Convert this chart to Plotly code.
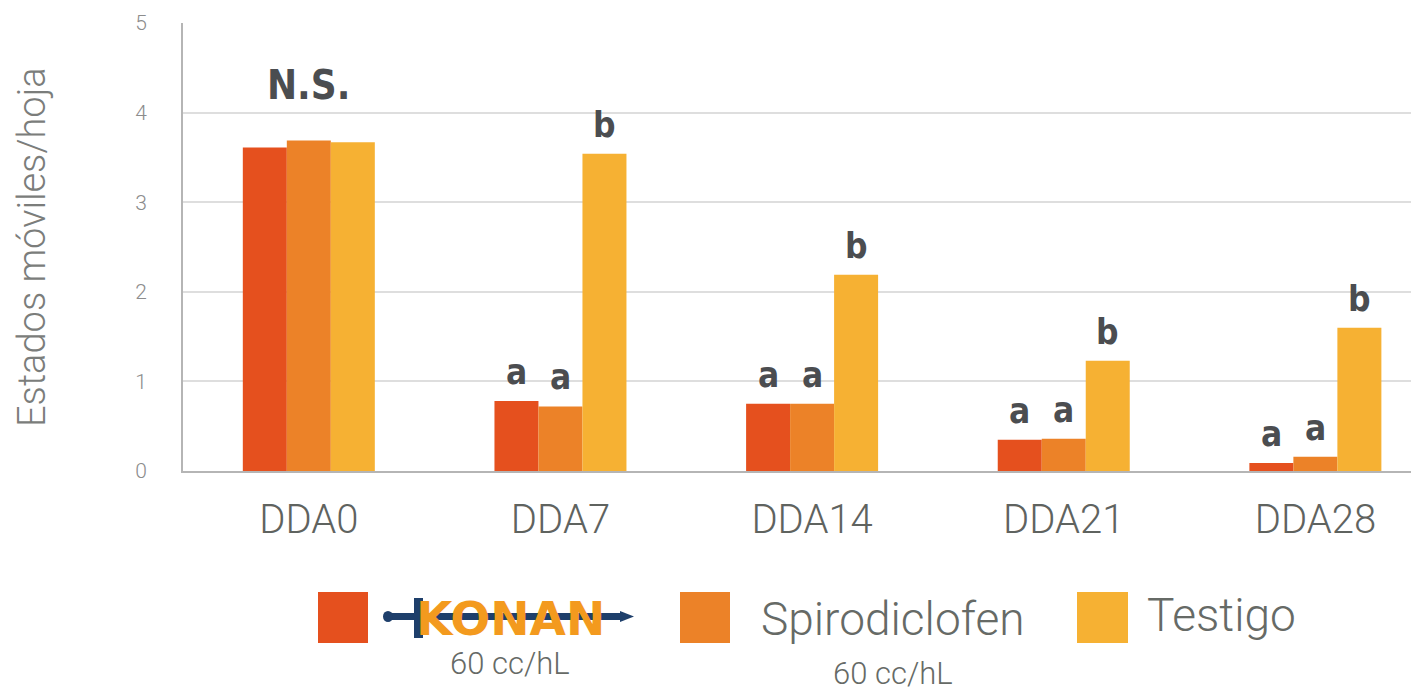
import plotly.graph_objects as go

categories = ["DDA0", "DDA7", "DDA14", "DDA21", "DDA28"]
series_names = ["Konan 60 cc/hL", "Spirodiclofen 60 cc/hL", "Testigo"]
konan = [3.61, 0.78, 0.75, 0.35, 0.09]
spirodiclofen = [3.69, 0.72, 0.75, 0.36, 0.16]
testigo = [3.67, 3.54, 2.19, 1.23, 1.60]
letters_konan = ["", "a", "a", "a", "a"]
letters_spiro = ["", "a", "a", "a", "a"]
letters_testigo = ["", "b", "b", "b", "b"]
group_label = ["N.S.", "", "", "", ""]
y_ticks = [0, 1, 2, 3, 4, 5]

colors = ["#E5501E", "#EC8228", "#F6B133"]
series = [konan, spirodiclofen, testigo]
letters = [letters_konan, letters_spiro, letters_testigo]

W, H = 1411, 691
L, R, T, B = 183, 0, 23, 220
PW, PH = W - L - R, H - T - B
x_range = [-0.5, 4.38]
unit = PW / (x_range[1] - x_range[0])
bar_w_px = 44
bw = bar_w_px / unit
bargap = 1 - 3 * bw


def px(x):
    return (x - L) / PW


def py(y):
    return (H - B - y) / PH


fig = go.Figure()
xs = list(range(len(categories)))
for name, vals, col in zip(series_names, series, colors):
    fig.add_trace(go.Bar(x=xs, y=vals, name=name, marker=dict(color=col, line=dict(width=0)),
                         showlegend=False, hoverinfo="skip"))

annotations = []
letter_font = dict(family="DejaVu Sans Condensed, Roboto, sans-serif", size=35, color="#4b4d50", weight="bold")
for s, (vals, labs) in enumerate(zip(series, letters)):
    for i, (v, t) in enumerate(zip(vals, labs)):
        if t:
            annotations.append(dict(x=i + (s - 1) * bw, y=v, xref="x", yref="y", text=t,
                                    showarrow=False, yanchor="bottom", yshift=7, font=letter_font))
for i, t in enumerate(group_label):
    if t:
        top = max(s_[i] for s_ in series)
        annotations.append(dict(x=i, y=top, xref="x", yref="y", text=t, showarrow=False,
                                yanchor="bottom", yshift=30, font=dict(letter_font, size=40)))

# Y axis title
annotations.append(dict(x=px(32), y=py(247), xref="paper", yref="paper", text="Estados móviles/hoja",
                        textangle=-90, showarrow=False, xanchor="center", yanchor="middle",
                        font=dict(family="Roboto, sans-serif", size=38, color="#7b7d7b", weight=300)))

# Custom legend
shapes = []
sq = [(318, 368), (680, 730), (1077, 1128)]
for (x0, x1), col in zip(sq, colors):
    shapes.append(dict(type="rect", xref="paper", yref="paper", x0=px(x0), x1=px(x1),
                       y0=py(643), y1=py(592), fillcolor=col, line=dict(width=0), layer="above"))

navy = "#1E3F6B"
# Konan logo (sword + word)
shapes.append(dict(type="rect", xref="paper", yref="paper", x0=px(388), x1=px(622), y0=py(620), y1=py(613),
                   fillcolor=navy, line=dict(width=0), layer="above"))
shapes.append(dict(type="circle", xref="paper", yref="paper", x0=px(383), x1=px(393), y0=py(622), y1=py(611),
                   fillcolor=navy, line=dict(width=0), layer="above"))
shapes.append(dict(type="rect", xref="paper", yref="paper", x0=px(414), x1=px(423), y0=py(638), y1=py(598),
                   fillcolor=navy, line=dict(width=0), layer="above"))
shapes.append(dict(type="path", xref="paper", yref="paper",
                   path=f"M {px(620)},{py(611)} L {px(634)},{py(616.5)} L {px(620)},{py(622)} Z",
                   fillcolor=navy, line=dict(width=0), layer="above"))
annotations.append(dict(x=px(510), y=py(618), xref="paper", yref="paper", text="KONAN", showarrow=False,
                        xanchor="center", yanchor="middle",
                        font=dict(family="DejaVu Sans, sans-serif", size=47, color="#F39A1E", weight="bold")))

leg_font = dict(family="Roboto, sans-serif", size=46, color="#666a66", weight=300)
sub_font = dict(family="Roboto, sans-serif", size=31, color="#666a66", weight=300)
annotations.append(dict(x=px(510), y=py(663), xref="paper", yref="paper", text="60 cc/hL", showarrow=False,
                        xanchor="center", yanchor="middle", font=sub_font))
annotations.append(dict(x=px(759), y=py(619), xref="paper", yref="paper", text="Spirodiclofen", showarrow=False,
                        xanchor="left", yanchor="middle", font=leg_font))
annotations.append(dict(x=px(893), y=py(673), xref="paper", yref="paper", text="60 cc/hL", showarrow=False,
                        xanchor="center", yanchor="middle", font=sub_font))
annotations.append(dict(x=px(1145), y=py(615), xref="paper", yref="paper", text="Testigo", showarrow=False,
                        xanchor="left", yanchor="middle", font=leg_font))

fig.update_layout(
    width=W, height=H,
    margin=dict(l=L, r=R, t=T, b=B, pad=0),
    paper_bgcolor="white", plot_bgcolor="white",
    barmode="group", bargap=bargap, bargroupgap=0,
    annotations=annotations, shapes=shapes,
    showlegend=False,
)
fig.update_xaxes(range=x_range, tickmode="array", tickvals=xs, ticktext=categories,
                 showgrid=False, zeroline=False, showline=True, linecolor="#b5b5b5", linewidth=2,
                 ticks="", ticklabelstandoff=12,
                 tickfont=dict(family="Roboto, sans-serif", size=40, color="#5f635f", weight=300))
fig.update_yaxes(range=[0, 5], tickmode="array", tickvals=y_ticks,
                 showgrid=True, gridcolor="#dedede", gridwidth=2, zeroline=False,
                 showline=True, linecolor="#b5b5b5", linewidth=2, ticks="", ticklabelstandoff=30,
                 tickfont=dict(family="Roboto, sans-serif", size=21, color="#8c8c8c", weight=300))

fig.write_html("out.html", config={"displayModeBar": False},
               post_script="document.body.style.margin='0';document.body.style.overflow='hidden';")
